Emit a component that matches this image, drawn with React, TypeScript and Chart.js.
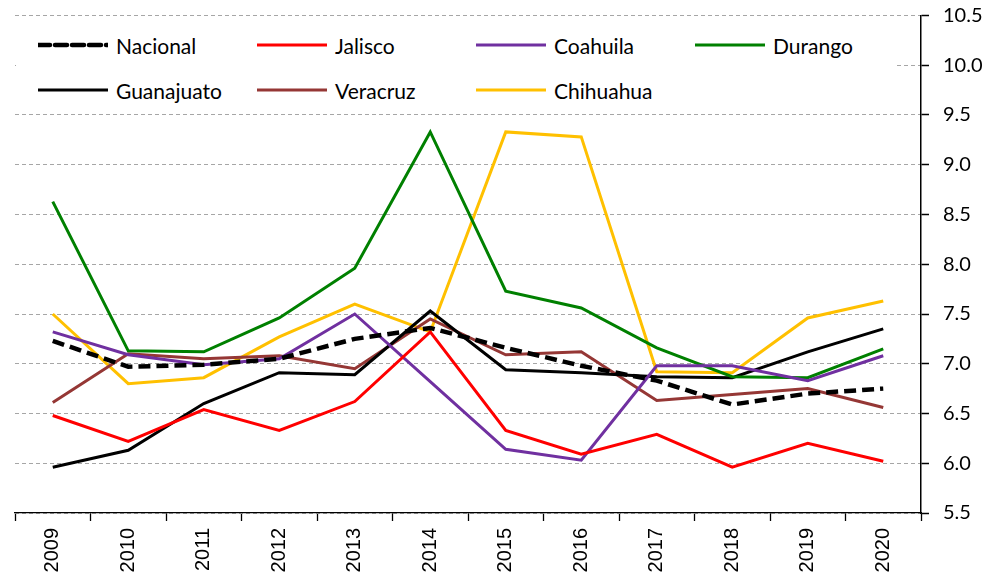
import React, { useEffect, useRef } from "react";
import { Chart, registerables } from "chart.js";

Chart.register(...registerables);

const years = ["2009", "2010", "2011", "2012", "2013", "2014", "2015", "2016", "2017", "2018", "2019", "2020"];
const nacional = [7.23, 6.97, 6.99, 7.05, 7.25, 7.36, 7.16, 6.98, 6.83, 6.59, 6.7, 6.75];
const jalisco = [6.48, 6.22, 6.54, 6.33, 6.62, 7.32, 6.33, 6.09, 6.29, 5.96, 6.2, 6.02];
const coahuila = [7.32, 7.09, 6.99, 7.05, 7.5, 6.82, 6.14, 6.03, 6.98, 6.98, 6.83, 7.08];
const durango = [8.63, 7.13, 7.12, 7.46, 7.96, 9.33, 7.73, 7.56, 7.16, 6.87, 6.86, 7.15];
const guanajuato = [5.96, 6.13, 6.6, 6.91, 6.89, 7.53, 6.94, 6.91, 6.87, 6.86, 7.12, 7.35];
const veracruz = [6.61, 7.1, 7.05, 7.08, 6.95, 7.45, 7.09, 7.12, 6.63, 6.69, 6.75, 6.56];
const chihuahua = [7.5, 6.8, 6.86, 7.27, 7.6, 7.32, 9.33, 9.28, 6.92, 6.91, 7.46, 7.63];

const yMin = 5.5;
const yMax = 10.5;
const yStep = 0.5;

type Series = { label: string; data: number[]; color: string; dashed?: boolean };

const series: Series[] = [
  { label: "Nacional", data: nacional, color: "#000000", dashed: true },
  { label: "Jalisco", data: jalisco, color: "#ff0000" },
  { label: "Coahuila", data: coahuila, color: "#7030a0" },
  { label: "Durango", data: durango, color: "#008000" },
  { label: "Guanajuato", data: guanajuato, color: "#000000" },
  { label: "Veracruz", data: veracruz, color: "#953735" },
  { label: "Chihuahua", data: chihuahua, color: "#ffc000" },
];

const W = 987;
const H = 586;

export default function App() {
  const ref = useRef<HTMLCanvasElement | null>(null);

  useEffect(() => {
    document.body.style.margin = "0";
    const canvas = ref.current;
    if (!canvas) return;
    const chart = new Chart(canvas, {
      type: "line",
      data: {
        labels: years,
        datasets: series.map((s) => ({
          label: s.label,
          data: s.data,
          borderColor: s.color,
          backgroundColor: s.color,
          borderWidth: s.dashed ? 4.5 : 3,
          borderDash: s.dashed ? [12, 6] : [],
          pointRadius: 0,
          pointHoverRadius: 0,
          tension: 0,
          fill: false,
        })),
      },
      options: {
        responsive: false,
        animation: false,
        events: [],
        layout: { padding: { left: 15, top: 15.5, right: 0, bottom: 0 } },
        plugins: {
          legend: { display: false },
          tooltip: { enabled: false },
          title: { display: false },
        },
        scales: {
          x: {
            type: "category",
            offset: true,
            grid: {
              offset: true,
              drawOnChartArea: false,
              drawTicks: true,
              tickLength: 8,
              tickColor: "#000000",
              tickWidth: 1.3,
              color: "#000000",
            },
            border: { display: true, color: "#000000", width: 1.3 },
            ticks: {
              autoSkip: false,
              minRotation: 90,
              maxRotation: 90,
              padding: 7,
              color: "#000000",
              font: { family: "'Liberation Sans', Arial, sans-serif", size: 20 },
            },
            afterFit: (scale: any) => {
              scale.height = 73;
              scale.paddingLeft = 0;
              scale.paddingRight = 0;
            },
          },
          y: {
            type: "linear",
            position: "right",
            min: yMin,
            max: yMax,
            grid: {
              color: "#a6a6a6",
              lineWidth: 1,
              drawTicks: true,
              tickLength: 8,
              tickColor: "#000000",
              tickWidth: 1.5,
              tickBorderDash: [],
            },
            border: { display: true, color: "#000000", width: 1.5, dash: [4, 3] },
            ticks: {
              stepSize: yStep,
              padding: 14,
              color: "#000000",
              font: { family: "Lato, 'Open Sans', sans-serif", size: 20 },
              callback: (v: any) => Number(v).toFixed(1),
            },
            afterFit: (scale: any) => {
              scale.width = 66;
              scale.paddingTop = 0;
              scale.paddingBottom = 0;
            },
          },
        },
      },
    });
    return () => chart.destroy();
  }, []);

  const colLeft = (i: number) => 38 + 219 * i;
  const rowTop = (r: number) => 45 + 45 * r;

  return (
    <div style={{ position: "fixed", left: 0, top: 0, width: W, height: H, background: "#ffffff" }}>
      <canvas ref={ref} width={W} height={H} style={{ display: "block", width: W, height: H }} />
      <div
        style={{
          position: "absolute",
          left: 16,
          top: 20,
          width: 881,
          height: 90,
          background: "#ffffff",
        }}
      />
      {series.map((s, i) => {
        const col = i < 4 ? i : i - 4;
        const row = i < 4 ? 0 : 1;
        return (
          <div
            key={s.label}
            style={{
              position: "absolute",
              left: colLeft(col),
              top: rowTop(row) - 15,
              height: 30,
              display: "flex",
              alignItems: "center",
              fontFamily: "Lato, 'Open Sans', sans-serif",
              fontSize: 21,
              color: "#000000",
              whiteSpace: "nowrap",
            }}
          >
            <svg width={70} height={10} style={{ display: "block", marginRight: 8 }}>
              <line
                x1={0}
                y1={5}
                x2={70}
                y2={5}
                stroke={s.color}
                strokeWidth={s.dashed ? 4.5 : 3}
                strokeDasharray={s.dashed ? "12 5" : undefined}
                strokeLinecap={s.dashed ? "round" : "butt"}
              />
            </svg>
            <span>{s.label}</span>
          </div>
        );
      })}
    </div>
  );
}
